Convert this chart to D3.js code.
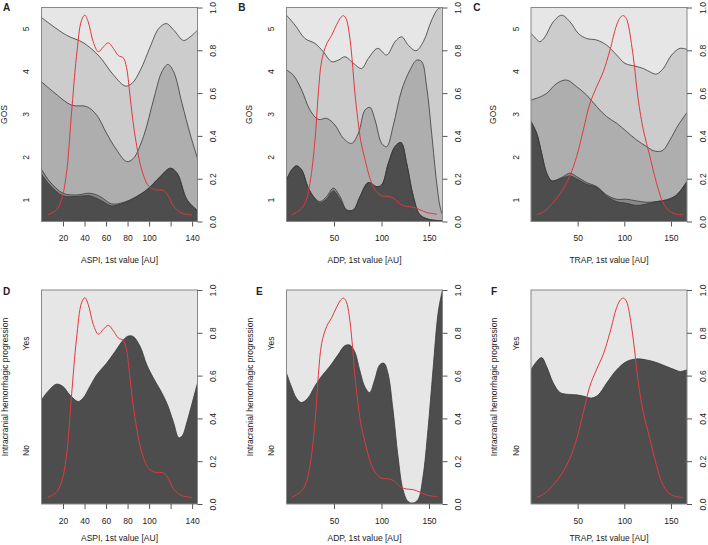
<!DOCTYPE html>
<html><head><meta charset="utf-8">
<script src="https://cdn.jsdelivr.net/npm/d3@7"></script>
<style>
body{margin:0;background:#fff;}
svg{display:block;}
text{font-family:"Liberation Sans",Arial,Helvetica,sans-serif;fill:#222;}
</style>
</head><body>
<svg id="chart" width="708" height="545"></svg>
<script>
// ---------- DATA ----------
// Red scaled density curves [x, relative density]
const densASPI = [[6,.031],[13.8,.054],[18.5,.10],[23.1,.22],[27.8,.5],[32.5,.77],[37.2,.94],[40.3,.964],[43.4,.933],[48.1,.84],[52.8,.793],[57.5,.816],[62.1,.835],[66.8,.809],[71.5,.775],[76,.765],[79,.72],[82,.6],[85,.47],[88.6,.35],[93.2,.241],[99.5,.166],[105.7,.148],[113.5,.145],[118.2,.117],[122.8,.07],[130.6,.039],[140,.031]];
const densADP = [[5.4,.031],[14.2,.054],[19.5,.086],[24.7,.179],[30,.381],[33.5,.6],[37,.75],[42.3,.83],[47.5,.87],[52.8,.92],[57.4,.955],[60,.962],[63,.945],[66,.88],[69,.76],[72,.6],[75,.48],[78,.38],[82.6,.29],[88,.2],[93,.15],[100,.12],[107,.118],[113,.108],[120,.08],[126.5,.07],[133.5,.067],[140.5,.055],[147.5,.042],[158.4,.034]];
const densTRAP = [[6.1,.031],[15,.05],[23.9,.09],[32.9,.14],[41.8,.215],[48.9,.303],[56.1,.428],[63.2,.552],[70.4,.63],[77.5,.70],[84.6,.801],[91.8,.918],[96,.955],[99,.962],[102,.95],[104.3,.918],[109.6,.77],[115,.568],[120.4,.428],[127.5,.303],[134.6,.179],[141.8,.086],[148.9,.047],[156.1,.034],[163.2,.031]];

// GOS conditional cumulative proportions: P(GOS<=4), P(<=3), P(<=2), P(<=1)
const aspiGOS4 = [[0,.953],[23,.871],[39,.835],[54,.77],[67,.684],[78,.633],[84,.645],[92,.708],[101,.816],[109,.902],[116,.925],[123,.894],[132,.846],[138,.862],[145,.894]];
const aspiGOS3 = [[0,.653],[10.7,.607],[28,.544],[41.9,.537],[51.2,.498],[60.5,.412],[69.9,.334],[79.2,.28],[85.4,.295],[94.8,.397],[104.1,.568],[111.9,.70],[117.5,.734],[122.8,.70],[130.6,.552],[138.4,.404],[145,.295]];
const aspiGOS2 = [[0,.244],[7.6,.187],[20,.132],[32.5,.124],[45,.132],[54.3,.117],[65.2,.082],[76.1,.089],[85.4,.109],[97.9,.148],[110.4,.21],[119.7,.249],[126,.226],[135.3,.101],[145,.051]];
const aspiGOS1 = [[0,.222],[7.6,.171],[20,.12],[32.5,.117],[45,.12],[54.3,.101],[65.2,.073],[76.1,.086],[85.4,.106],[97.9,.148],[110.4,.21],[119.7,.249],[126,.226],[135.3,.101],[145,.051]];

const adpGOS4 = [[0,.964],[8.9,.918],[19.5,.855],[30,.832],[38.8,.793],[47.5,.747],[54.6,.754],[61.6,.77],[70.4,.739],[79.1,.715],[86.1,.762],[96,.809],[105.4,.778],[114.2,.84],[121.2,.863],[128.2,.824],[136.3,.798],[144,.84],[152.8,.941],[159.8,.995],[164.2,1.0]];
const adpGOS3 = [[0,.708],[7.2,.684],[16,.614],[24.7,.521],[33.5,.477],[42.3,.482],[51,.451],[59.8,.389],[68.6,.365],[75.6,.412],[82.6,.521],[87.9,.533],[93.2,.474],[100.2,.365],[105.4,.35],[112.5,.451],[121.2,.614],[130,.708],[137,.754],[142.3,.747],[147.5,.63],[152.8,.412],[158.1,.179],[161.6,.07],[164.2,.031]];
const adpGOS2 = [[0,.194],[5.4,.241],[10.7,.26],[16,.241],[23,.156],[30,.109],[35.3,.093],[42.3,.117],[49.3,.156],[56.3,.117],[63.3,.054],[70.4,.054],[77.4,.117],[86.1,.182],[94.9,.163],[100.2,.171],[107.2,.272],[114.2,.35],[120.5,.369],[126.5,.272],[133.5,.117],[140.5,.031],[150,.01],[164.2,.003]];
const adpGOS1 = [[0,.194],[5.4,.241],[10.7,.26],[16,.241],[23,.156],[30,.105],[35.3,.086],[42.3,.106],[49.3,.143],[56.3,.104],[63.3,.054],[70.4,.054],[77.4,.117],[86.1,.182],[94.9,.163],[100.2,.171],[107.2,.272],[114.2,.35],[120.5,.369],[126.5,.272],[133.5,.117],[140.5,.031],[150,.01],[164.2,.003]];

const trapGOS4 = [[0,.879],[6.1,.851],[9.6,.84],[15,.863],[23.9,.933],[32.9,.964],[41.8,.933],[50.7,.879],[59.6,.855],[70.4,.848],[81.1,.824],[91.8,.778],[100.7,.739],[111.4,.726],[120.4,.715],[129.3,.695],[134.6,.689],[141.8,.715],[150.7,.778],[159.6,.809],[167.2,.804]];
const trapGOS3 = [[0,.568],[7.9,.579],[16.8,.599],[27.5,.645],[38.2,.661],[48.9,.63],[59.6,.591],[70.4,.537],[81.1,.49],[91.8,.459],[102.5,.42],[113.2,.381],[123.9,.35],[131.1,.331],[136.4,.327],[141.8,.334],[148.9,.381],[157.9,.451],[167.2,.509]];
const trapGOS2 = [[0,.467],[6.1,.412],[11.4,.319],[16.8,.226],[22.1,.19],[27.5,.194],[34.6,.21],[41.8,.226],[48.9,.21],[59.6,.182],[70.4,.163],[81.1,.124],[91.8,.104],[102.5,.104],[113.2,.096],[123.9,.09],[134.6,.093],[145.4,.101],[156.1,.124],[167.2,.187]];
const trapGOS1 = [[0,.467],[6.1,.412],[11.4,.319],[16.8,.226],[22.1,.19],[27.5,.194],[34.6,.205],[41.8,.213],[48.9,.2],[59.6,.174],[70.4,.16],[81.1,.118],[91.8,.093],[102.5,.085],[113.2,.075],[123.9,.082],[134.6,.093],[145.4,.101],[156.1,.124],[167.2,.187]];

// Intracranial hemorrhagic progression: P(No | x)
const aspiNo = [[0,.487],[6,.526],[13.8,.56],[20,.549],[26.3,.51],[34.1,.479],[38.7,.495],[45,.549],[51.2,.603],[60.5,.658],[68.3,.712],[76.1,.767],[80.8,.785],[85.4,.782],[91.7,.736],[97.9,.65],[104.1,.588],[110.4,.533],[116.6,.47],[122.8,.38],[127.6,.31],[131,.32],[135,.38],[140,.471],[145,.565]];
const adpNo = [[0,.611],[5.1,.549],[10.4,.495],[15.6,.474],[22.6,.495],[29.6,.549],[36.7,.596],[45.4,.642],[54.2,.697],[61.2,.739],[66.5,.743],[71.8,.712],[77,.627],[82.3,.549],[87.5,.521],[92.8,.58],[98.1,.65],[102.6,.658],[106.8,.611],[112.1,.44],[117.4,.222],[122.6,.067],[127.9,.012],[133.2,.005],[138.4,.02],[143.7,.129],[148.9,.347],[154.2,.627],[159.5,.891],[163,.977],[164.2,1.0]];
const trapNo = [[0,.627],[6.1,.666],[11.4,.684],[16.8,.642],[23.9,.565],[31.1,.521],[38.2,.513],[48.9,.51],[57.9,.502],[65,.495],[72.1,.51],[81.1,.565],[91.8,.627],[102.5,.666],[113.2,.678],[123.9,.673],[134.6,.661],[145.4,.642],[154.3,.627],[159.6,.619],[167.2,.627]];

// Labels and ticks
const gosLevels = ["1","2","3","4","5"];
const ichLevels = ["No","Yes"];
const aspiTicks = [20,40,60,80,100,120,140];
const adpTicks = [50,100,150];
const trapTicks = [50,100,150];
const probTicks = [0,0.2,0.4,0.6,0.8,1.0];

// ---------- LAYOUT ----------
const W = 156, H = 214;
const gosFills = ["#CCCCCC","#AEAEAE","#888888","#4D4D4D"];
const ichFills = ["#4D4D4D"];
const bgFill = "#E6E6E6";

const panels = [
  {letter:"A", lx:3, ly:10.5, left:41.5, top:7.5, dom:[0,145], ticks:aspiTicks, hide:[120], xt:"ASPI, 1st value [AU]", xtY:263, yt:"GOS", ytOff:37.5, ytY:114.5, bounds:[aspiGOS4,aspiGOS3,aspiGOS2,aspiGOS1], fills:gosFills, dens:densASPI, levels:gosLevels, levPos:[.1,.3,.5,.7,.9]},
  {letter:"B", lx:238.3, ly:10.5, left:286.5, top:7.5, dom:[0,164.2], ticks:adpTicks, hide:[], xt:"ADP, 1st value [AU]", xtY:263, yt:"GOS", ytOff:37.5, ytY:114.5, bounds:[adpGOS4,adpGOS3,adpGOS2,adpGOS1], fills:gosFills, dens:densADP, levels:gosLevels, levPos:[.1,.3,.5,.7,.9]},
  {letter:"C", lx:473.3, ly:10.5, left:531, top:7.5, dom:[0,167.2], ticks:trapTicks, hide:[], xt:"TRAP, 1st value [AU]", xtY:263, yt:"GOS", ytOff:37.5, ytY:114.5, bounds:[trapGOS4,trapGOS3,trapGOS2,trapGOS1], fills:gosFills, dens:densTRAP, levels:gosLevels, levPos:[.1,.3,.5,.7,.9]},
  {letter:"D", lx:3, ly:294.5, left:41.5, top:290, dom:[0,145], ticks:aspiTicks, hide:[120], xt:"ASPI, 1st value [AU]", xtY:541, yt:"Intracranial hemorrhagic progression", ytOff:36.5, ytY:387, bounds:[aspiNo], fills:ichFills, dens:densASPI, levels:ichLevels, levPos:[.25,.75]},
  {letter:"E", lx:256, ly:294.5, left:286.5, top:290, dom:[0,164.2], ticks:adpTicks, hide:[], xt:"ADP, 1st value [AU]", xtY:541, yt:"Intracranial hemorrhagic progression", ytOff:36.5, ytY:387, bounds:[adpNo], fills:ichFills, dens:densADP, levels:ichLevels, levPos:[.25,.75]},
  {letter:"F", lx:491, ly:294.5, left:531, top:290, dom:[0,167.2], ticks:trapTicks, hide:[], xt:"TRAP, 1st value [AU]", xtY:541, yt:"Intracranial hemorrhagic progression", ytOff:36.5, ytY:387, bounds:[trapNo], fills:ichFills, dens:densTRAP, levels:ichLevels, levPos:[.25,.75]}
];

const svg = d3.select("#chart");
const FS = "8.5px";
const curve = d3.curveCatmullRom.alpha(0.5);

panels.forEach((p, i) => {
  const x = d3.scaleLinear().domain(p.dom).range([p.left, p.left + W]);
  const y = d3.scaleLinear().domain([0, 1]).range([p.top + H, p.top]);
  const g = svg.append("g");
  const clipId = "clip" + i;
  g.append("clipPath").attr("id", clipId).append("rect")
    .attr("x", p.left).attr("y", p.top).attr("width", W).attr("height", H);
  const pg = g.append("g").attr("clip-path", `url(#${clipId})`);

  pg.append("rect").attr("x", p.left).attr("y", p.top).attr("width", W).attr("height", H).attr("fill", bgFill);

  const area = d3.area().x(d => x(d[0])).y0(y(0)).y1(d => y(d[1])).curve(curve);
  const line = d3.line().x(d => x(d[0])).y(d => y(d[1])).curve(curve);

  p.bounds.forEach((b, k) => {
    pg.append("path").datum(b).attr("d", area).attr("fill", p.fills[k]);
  });
  p.bounds.forEach(b => {
    pg.append("path").datum(b).attr("d", line).attr("fill", "none").attr("stroke", "#3a3a3a").attr("stroke-width", 0.8);
  });
  pg.append("path").datum(p.dens).attr("d", line).attr("fill", "none").attr("stroke", "#e0393e").attr("stroke-width", 1);

  // frame
  g.append("rect").attr("x", p.left).attr("y", p.top).attr("width", W).attr("height", H)
    .attr("fill", "none").attr("stroke", "#888").attr("stroke-width", 1);

  // bottom axis
  const ax = g.append("g").attr("transform", `translate(0,${p.top + H})`)
    .call(d3.axisBottom(x).tickValues(p.ticks).tickSize(5).tickPadding(8.5)
      .tickFormat(d => p.hide.includes(d) ? "" : String(d)));
  ax.select(".domain").remove();
  ax.selectAll("line").attr("stroke", "#555");
  ax.selectAll("text").style("font-size", FS).attr("fill", "#222")
    .style("font-family", '"Liberation Sans",Arial,sans-serif');

  // right axis
  const ay = g.append("g").attr("transform", `translate(${p.left + W},0)`)
    .call(d3.axisRight(y).tickValues(probTicks).tickSize(5).tickFormat(d3.format(".1f")));
  ay.select(".domain").remove();
  ay.selectAll("line").attr("stroke", "#555");
  ay.selectAll("text").attr("x", null).attr("dy", "0.35em")
    .attr("transform", "translate(16,0) rotate(-90)").attr("text-anchor", "middle")
    .style("font-size", FS).attr("fill", "#222")
    .style("font-family", '"Liberation Sans",Arial,sans-serif');

  // left category labels
  p.levels.forEach((lab, k) => {
    g.append("text").attr("transform", `translate(${p.left - 15},${y(p.levPos[k])}) rotate(-90)`)
      .attr("text-anchor", "middle").attr("dy", "0.35em").style("font-size", FS).text(lab);
  });

  // titles
  g.append("text").attr("x", p.left + W / 2).attr("y", p.xtY).attr("text-anchor", "middle")
    .style("font-size", FS).text(p.xt);
  g.append("text").attr("transform", `translate(${p.left - p.ytOff},${p.ytY}) rotate(-90)`)
    .attr("text-anchor", "middle").attr("dy", "0.35em").style("font-size", FS).text(p.yt);

  // panel letter
  g.append("text").attr("x", p.lx).attr("y", p.ly).style("font-size", "10px")
    .style("font-weight", "bold").attr("fill", "#111").text(p.letter);
});
</script>
</body></html>
